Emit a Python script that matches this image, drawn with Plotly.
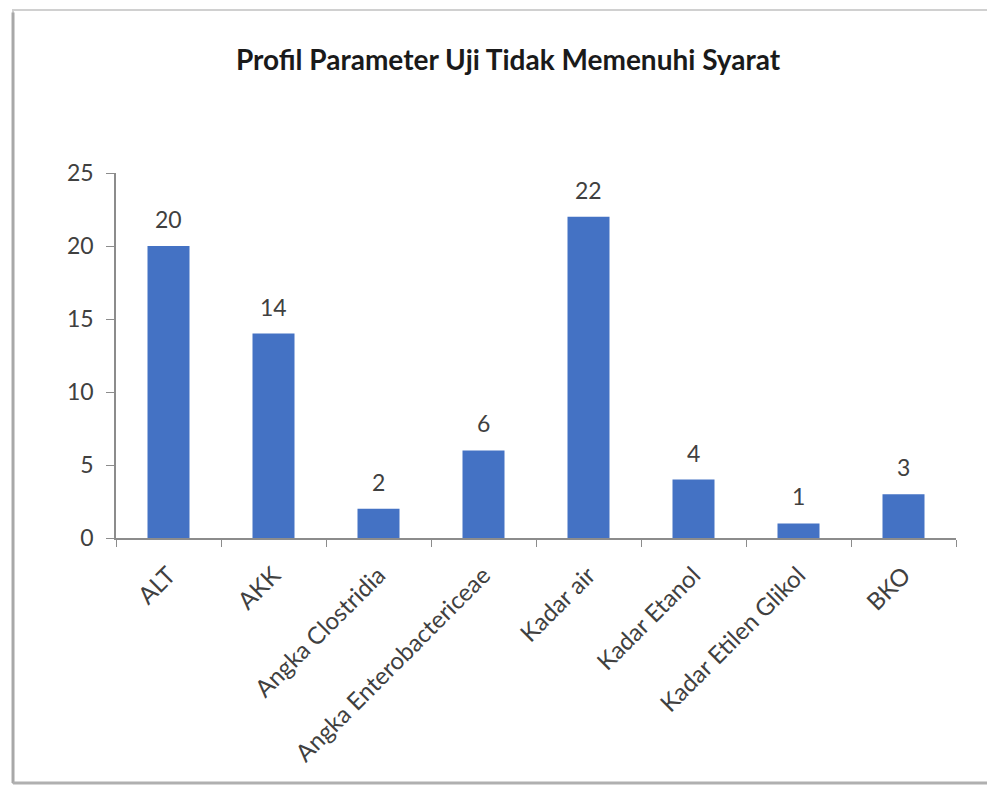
import plotly.graph_objects as go

categories = ["ALT", "AKK", "Angka Clostridia", "Angka Enterobactericeae",
              "Kadar air", "Kadar Etanol", "Kadar Etilen Glikol", "BKO"]
values = [20, 14, 2, 6, 22, 4, 1, 3]
y_ticks = [0, 5, 10, 15, 20, 25]

FONT = "Lato, Open Sans, sans-serif"
TXT = "#404040"
AX = "#8c8c8c"

fig = go.Figure(go.Bar(
    x=categories, y=values,
    marker=dict(color="#4472C4", line=dict(width=0)),
    width=0.4,
))

for c, v in zip(categories, values):
    fig.add_annotation(x=c, y=v, text=str(v), showarrow=False,
                       yanchor="bottom", yshift=11,
                       font=dict(size=23, color=TXT, family=FONT))

fig.update_layout(
    width=987, height=777,
    paper_bgcolor="white", plot_bgcolor="white",
    margin=dict(l=108, r=39, t=165, b=247),
    title=dict(text="<b>Profil Parameter Uji Tidak Memenuhi Syarat</b>",
               x=0.5066, xanchor="center", y=0.933, yanchor="middle",
               font=dict(size=28, color="#1a1a1a", family=FONT)),
    showlegend=False,
    font=dict(family=FONT),
    shapes=[
        dict(type="rect", xref="paper", yref="paper",
             x0=-0.1226, x1=1.044, y0=-0.671, y1=1.4466,
             line=dict(color="#d0d0d0", width=2), layer="below"),
        dict(type="line", xref="paper", yref="paper",
             x0=-0.1226, x1=-0.1226, y0=-0.671, y1=1.44,
             line=dict(color="#a8a8a8", width=3), layer="below"),
        dict(type="line", xref="paper", yref="paper",
             x0=-0.1226, x1=1.044, y0=-0.671, y1=-0.671,
             line=dict(color="#b0b0b0", width=3), layer="below"),
    ],
)

fig.update_xaxes(
    type="category", tickangle=-45,
    showline=True, linecolor=AX, linewidth=1.5,
    ticks="outside", tickson="boundaries", ticklen=7, tickcolor=AX,
    tickfont=dict(size=24, color=TXT, family=FONT),
    ticklabelstandoff=12,
    showgrid=False, zeroline=False,
)
fig.update_yaxes(
    range=[0, 25], tickvals=y_ticks,
    showline=True, linecolor=AX, linewidth=1.5,
    ticks="outside", ticklen=8, tickcolor=AX,
    tickfont=dict(size=23, color=TXT, family=FONT),
    ticklabelstandoff=8,
    showgrid=False, zeroline=False,
)

fig.write_html("out.html")
